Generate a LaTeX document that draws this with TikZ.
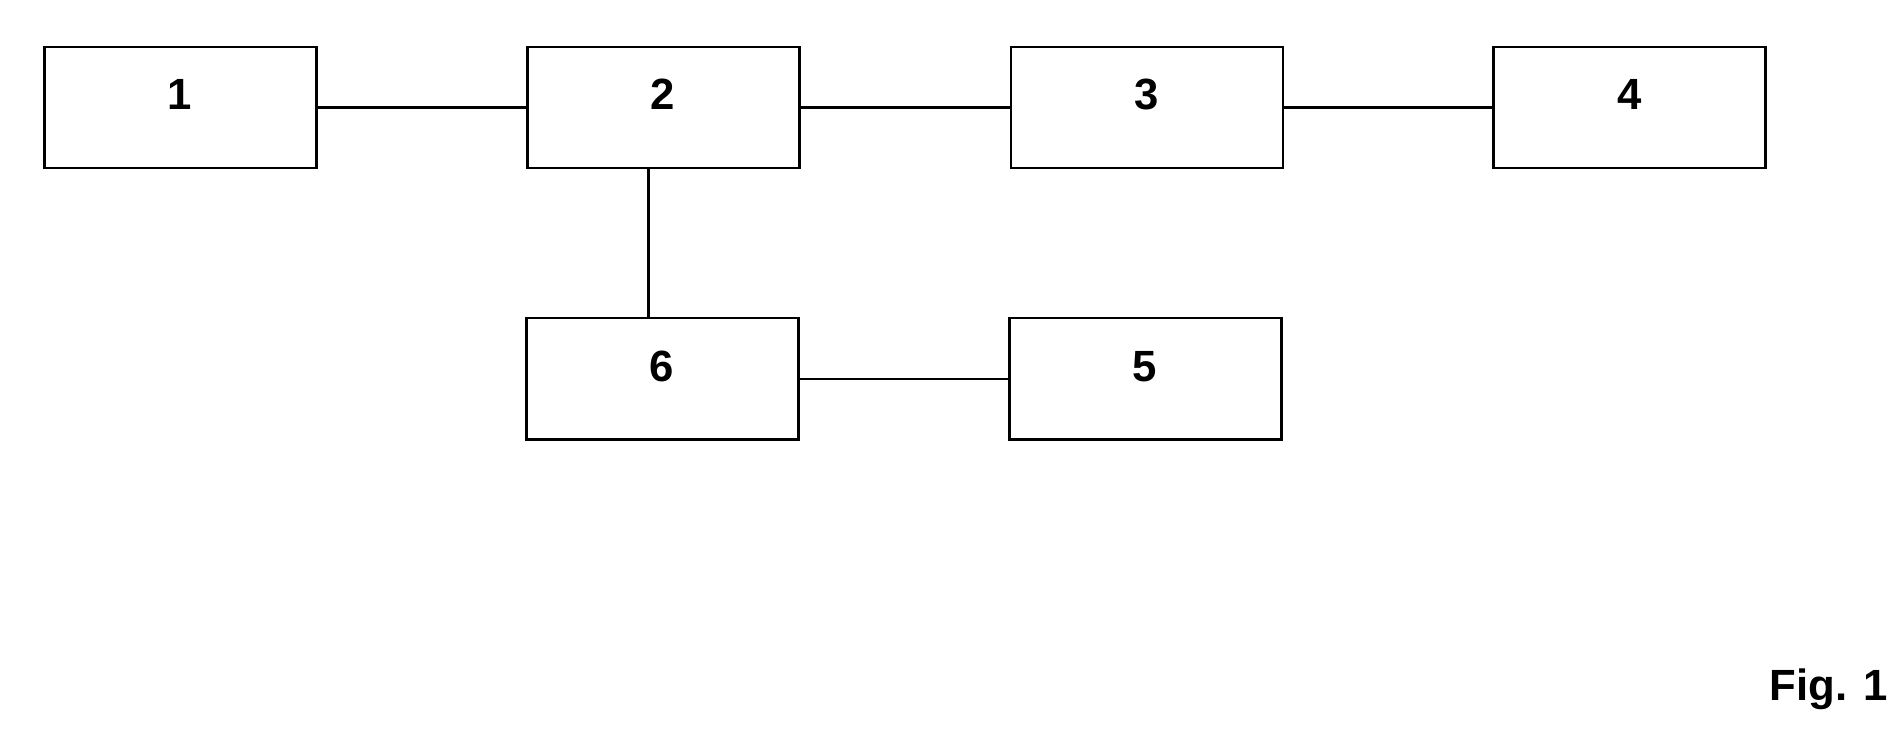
\documentclass[tikz,border=0pt]{standalone}
\usepackage{fontspec}
\setmainfont{Liberation Sans}
\begin{document}
\begin{tikzpicture}[x=0.5pt,y=-0.5pt,
  box/.style={draw,line width=1pt,minimum width=112pt,minimum height=50pt,inner sep=0pt},
  lbl/.style={font=\bfseries\fontsize{18}{20}\selectfont},
  conn/.style={line width=1pt}]
\useasboundingbox (0,0) rectangle (1568,602);
\node[box] (n1) at (148.5,88.5) {};
\node[box] (n2) at (546.5,88.5) {};
\node[box] (n3) at (944.5,88.5) {};
\node[box] (n4) at (1342,88.5) {};
\node[box] (n6) at (545.5,312) {};
\node[box] (n5) at (943.5,312) {};
\node[lbl] (t1) at (148,78) {1};
\node[lbl] (t2) at (546,78) {2};
\node[lbl] (t3) at (944,78) {3};
\node[lbl] (t4) at (1342,78) {4};
\node[lbl] (t6) at (545,302) {6};
\node[lbl] (t5) at (943,302) {5};
\node[font=\bfseries\fontsize{18}{22}\selectfont,anchor=east] (fig) at (1562,568) {Fig. 1};
\draw[conn] (n1) -- (n2);
\draw[conn] (n2) -- (n3);
\draw[conn] (n3) -- (n4);
\draw[conn] (n6) -- (n5);
\draw[conn] (534,138) coordinate (a) -- (534,262) coordinate (b);
\end{tikzpicture}
\end{document}
